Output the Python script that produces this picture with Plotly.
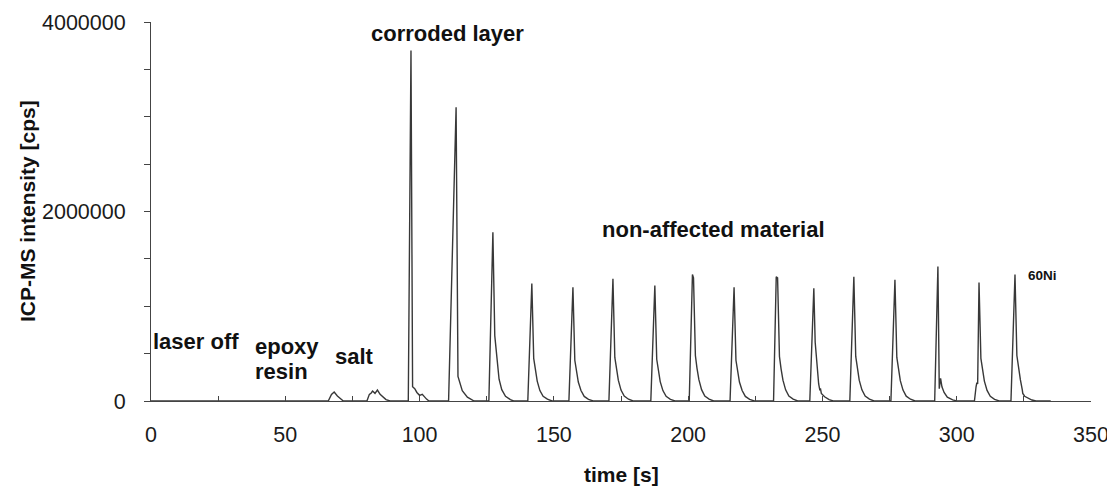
import plotly.graph_objects as go

# ---- data (60Ni signal) ----
time_s = [
    0, 66.0, 67.2, 68.2, 69.4, 70.6, 71.6,
    80.4, 81.3, 82.0, 82.5, 83.4, 84.3, 85.3, 86.5, 87.5, 89.0,
    95.8, 96.8, 97.4, 98.2, 99.0, 100.0, 101.0, 102.6, 103.5,
    110.8, 113.6, 114.3, 115.0, 115.9, 117.8, 120.3,
    125.8, 127.3, 128.0, 128.8, 129.6, 130.6, 132.0, 133.8, 135.0,
    140.3, 141.8, 142.5, 143.1, 143.8, 144.8, 146.0, 147.6, 149.3,
    155.6, 157.1, 157.8, 158.4, 159.1, 160.1, 161.3, 162.9, 164.6,
    170.5, 172.0, 172.7, 173.3, 174.0, 175.0, 176.2, 177.8, 179.5,
    186.1, 187.6, 188.3, 188.9, 189.6, 190.6, 191.8, 193.4, 195.1,
    200.4, 201.6, 202.0, 202.7, 203.3, 204.0, 205.0, 206.2, 207.8, 209.5,
    215.6, 217.1, 217.8, 218.4, 219.1, 220.1, 221.3, 222.9, 224.6,
    231.8, 232.8, 233.3, 234.0, 234.6, 235.3, 236.3, 237.5, 239.1, 240.8,
    245.3, 246.8, 247.3, 248.0, 248.6, 249.0, 249.3, 249.6, 250.8, 252.5, 254.0,
    260.2, 261.7, 262.4, 263.0, 263.7, 264.7, 265.9, 267.5, 269.2,
    275.5, 277.0, 277.7, 278.3, 279.0, 280.0, 281.2, 282.8, 284.5,
    291.8, 293.0, 293.5, 294.0, 294.5, 295.3, 296.5, 298.5, 300.0,
    306.6, 307.2, 307.5, 307.8, 308.3, 309.0, 309.6, 310.3, 311.3, 312.5, 314.1, 315.8,
    320.2, 321.7, 322.4, 323.0, 323.7, 324.4, 324.6, 325.3, 326.5, 328.0, 329.5,
    335.0,
]
intensity_cps = [
    0, 0, 70000, 95000, 53000, 18000, 0,
    0, 70000, 85000, 105000, 81000, 116000, 70000, 35000, 15000, 0,
    0, 3700000, 150000, 130000, 90000, 60000, 70000, 20000, 0,
    0, 3100000, 260000, 190000, 110000, 40000, 0,
    0, 1780000, 690000, 420000, 230000, 120000, 50000, 15000, 0,
    0, 1240000, 450000, 320000, 210000, 110000, 50000, 19000, 0,
    0, 1200000, 430000, 310000, 200000, 110000, 48000, 18000, 0,
    0, 1290000, 460000, 335000, 220000, 115000, 52000, 19000, 0,
    0, 1220000, 440000, 315000, 205000, 110000, 49000, 18000, 0,
    0, 1335000, 1300000, 480000, 345000, 225000, 120000, 53000, 20000, 0,
    0, 1200000, 430000, 310000, 200000, 110000, 48000, 18000, 0,
    0, 1310000, 1300000, 470000, 340000, 220000, 118000, 52000, 20000, 0,
    0, 1190000, 620000, 330000, 180000, 120000, 125000, 80000, 45000, 15000, 0,
    0, 1310000, 470000, 340000, 220000, 118000, 52000, 20000, 0,
    0, 1280000, 460000, 330000, 215000, 115000, 51000, 19000, 0,
    0, 1420000, 130000, 240000, 150000, 90000, 40000, 12000, 0,
    0, 150000, 195000, 180000, 1250000, 450000, 325000, 210000, 112000, 50000, 18000, 0,
    0, 1335000, 480000, 345000, 225000, 120000, 80000, 50000, 30000, 10000, 0,
    0,
]

x_tick_vals = [0, 25, 50, 75, 100, 125, 150, 175, 200, 225, 250, 275, 300, 325, 350]
x_tick_text = ["0", "", "50", "", "100", "", "150", "", "200", "", "250", "", "300", "", "350"]
y_tick_vals = [0, 500000, 1000000, 1500000, 2000000, 2500000, 3000000, 3500000, 4000000]
y_tick_text = ["0", "", "", "", "2000000", "", "", "", "4000000"]

labels = ["corroded layer", "non-affected material", "laser off", "epoxy", "resin", "salt", "60Ni"]
label_x = [110.4, 209.4, 16.9, 38.0, 38.0, 75.6, 325.8]
label_y = [3879000, 1810000, 628000, 575000, 311000, 470000, 1325000]

FONT = "Liberation Sans, Arial, sans-serif"

fig = go.Figure()
fig.add_trace(go.Scatter(
    x=time_s, y=intensity_cps, mode="lines",
    line=dict(color="#383838", width=1.4),
    showlegend=False, hoverinfo="skip",
))

anchors = ["center", "center", "center", "left", "left", "center", "left"]
sizes = [22, 22, 22, 22, 22, 22, 13.5]
for txt, ax, ay, anc, sz in zip(labels, label_x, label_y, anchors, sizes):
    fig.add_annotation(
        x=ax, y=ay, xref="x", yref="y", text=f"<b>{txt}</b>",
        showarrow=False, xanchor=anc, yanchor="middle",
        font=dict(family=FONT, size=sz, color="#111111"),
    )

# axis titles
fig.add_annotation(
    text="<b>ICP-MS intensity [cps]</b>", xref="paper", yref="paper",
    x=0, y=0.5, xshift=-123.5, textangle=-90, showarrow=False,
    xanchor="center", yanchor="middle",
    font=dict(family=FONT, size=21, color="#111111"),
)
fig.add_annotation(
    text="<b>time [s]</b>", xref="paper", yref="paper",
    x=0.5, y=0, yshift=-73, showarrow=False,
    xanchor="center", yanchor="middle",
    font=dict(family=FONT, size=21, color="#111111"),
)

fig.update_layout(
    width=1115, height=488,
    margin=dict(l=143, r=32, t=14, b=95, autoexpand=False),
    paper_bgcolor="white", plot_bgcolor="white",
    font=dict(family=FONT, size=21, color="#1a1a1a"),
)
fig.update_xaxes(
    range=[0, 350], tickvals=x_tick_vals, ticktext=x_tick_text,
    ticks="inside", ticklen=5, tickcolor="#444444", tickwidth=1,
    showline=True, linecolor="#444444", linewidth=1,
    showgrid=False, zeroline=False, ticklabelstandoff=14, automargin=False,
    tickfont=dict(family=FONT, size=21.5, color="#1a1a1a"),
)
fig.update_yaxes(
    range=[0, 4000000], tickvals=y_tick_vals, ticktext=y_tick_text,
    ticks="outside", ticklen=6, tickcolor="#444444", tickwidth=1,
    showline=True, linecolor="#444444", linewidth=1,
    showgrid=False, zeroline=False, ticklabelstandoff=14, automargin=False,
    tickfont=dict(family=FONT, size=21.5, color="#1a1a1a"),
)

fig.write_html("out.html")
